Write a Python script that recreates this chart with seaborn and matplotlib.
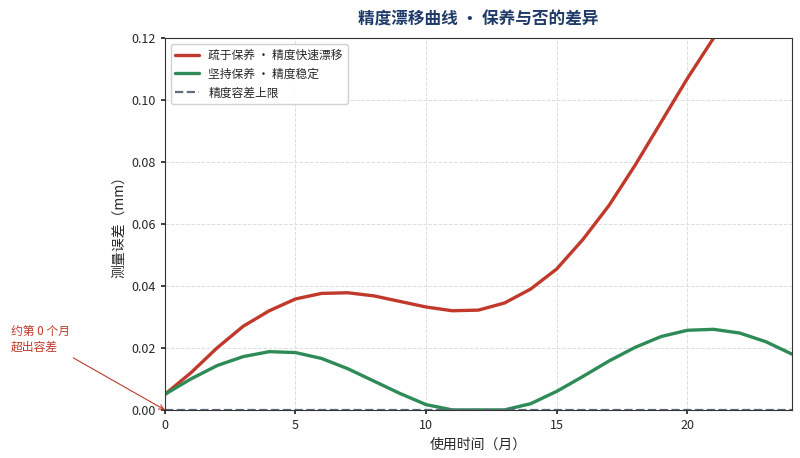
import matplotlib
matplotlib.use("Agg")
import matplotlib.pyplot as plt
import seaborn as sns
import pandas as pd

months = list(range(25))
neglect = [0.005,0.012,0.020,0.027,0.032,0.0358,0.0376,0.0378,0.0368,0.035,0.0332,0.032,0.0322,0.0345,0.039,0.0455,0.055,0.066,0.079,0.093,0.107,0.120,0.134,0.148,0.162]
maintain = [0.005,0.010,0.0143,0.0172,0.0188,0.0185,0.0166,0.0133,0.0093,0.0053,0.0017,0.0,0.0,0.0,0.002,0.006,0.0108,0.0158,0.0202,0.0237,0.0257,0.026,0.0248,0.022,0.018]
tolerance = 0.0
labels = ["疏于保养 · 精度快速漂移", "坚持保养 · 精度稳定", "精度容差上限"]

sns.set_theme(style="white")
plt.rcParams['font.family'] = ['Noto Sans CJK SC', 'DejaVu Sans']

fig = plt.figure(figsize=(8, 4.58), dpi=100)
ax = fig.add_axes([0.206, 0.105, 0.784, 0.812])
df = pd.DataFrame({"m": months, "a": neglect, "b": maintain})
sns.lineplot(data=df, x="m", y="a", ax=ax, color="#c0392b", lw=2.4, label=labels[0])
sns.lineplot(data=df, x="m", y="b", ax=ax, color="#2e8b57", lw=2.4, label=labels[1])
ax.axhline(tolerance, color="#5d6d7e", ls="--", lw=1.6, label=labels[2])
ax.set_xlim(0, 24)
ax.set_ylim(0, 0.12)
ax.set_xticks([0, 5, 10, 15, 20])
ax.set_yticks([0, 0.02, 0.04, 0.06, 0.08, 0.10, 0.12])
ax.set_yticklabels([f"{v:.2f}" for v in [0, 0.02, 0.04, 0.06, 0.08, 0.10, 0.12]])
ax.tick_params(labelsize=9, left=True, bottom=True, length=3)
ax.grid(True, ls="--", color="#dddddd", lw=0.7)
for s in ax.spines.values():
    s.set_color("#333333"); s.set_linewidth(0.8)
ax.set_xlabel("使用时间（月）", fontsize=10)
ax.set_ylabel("测量误差（mm）", fontsize=10)
ax.set_title("精度漂移曲线 · 保养与否的差异", fontsize=12, fontweight="bold", color="#1f3a68", pad=10)
ax.legend(loc="upper left", fontsize=8.5, frameon=True, framealpha=0.9)
ax.annotate("约第 0 个月\n超出容差", xy=(0, tolerance), xycoords="data",
            xytext=(-0.245, 0.19), textcoords="axes fraction",
            ha="left", va="center", fontsize=8.5, color="#c0392b", annotation_clip=False,
            arrowprops=dict(arrowstyle="->", color="#c0392b", lw=0.8, shrinkA=2, shrinkB=0))
fig.savefig("out.png", dpi=100)
